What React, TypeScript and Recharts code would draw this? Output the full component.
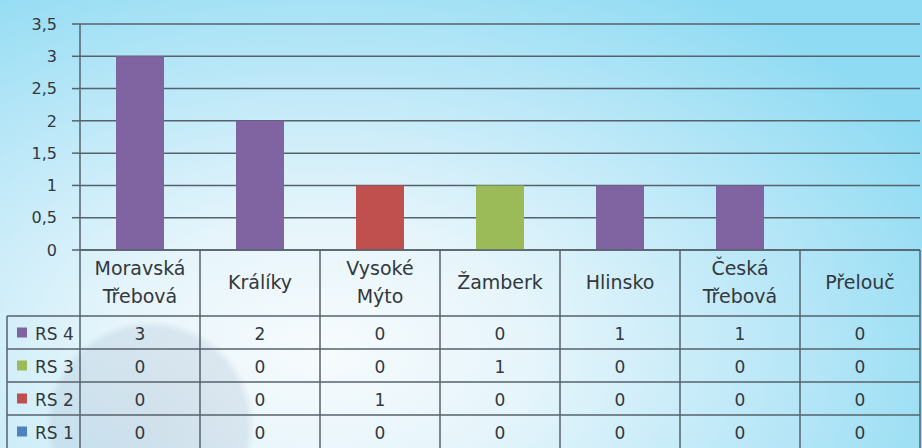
import React from 'react';
import { BarChart, Bar, XAxis, YAxis, CartesianGrid } from 'recharts';

const categories = ['Moravská Třebová', 'Králíky', 'Vysoké Mýto', 'Žamberk', 'Hlinsko', 'Česká Třebová', 'Přelouč'];
const rs4 = [3, 2, 0, 0, 1, 1, 0];
const rs3 = [0, 0, 0, 1, 0, 0, 0];
const rs2 = [0, 0, 1, 0, 0, 0, 0];
const rs1 = [0, 0, 0, 0, 0, 0, 0];
const seriesNames = ['RS 4', 'RS 3', 'RS 2', 'RS 1'];
const yTicks = [0, 0.5, 1, 1.5, 2, 2.5, 3, 3.5];

const COLORS = { rs4: '#8064a2', rs3: '#9bbb59', rs2: '#c0504d', rs1: '#4f81bd' };

const data = categories.map((c, i) => ({ name: c, rs1: rs1[i], rs2: rs2[i], rs3: rs3[i], rs4: rs4[i] }));

const tableRows = [
  { name: seriesNames[0], values: rs4, color: COLORS.rs4 },
  { name: seriesNames[1], values: rs3, color: COLORS.rs3 },
  { name: seriesNames[2], values: rs2, color: COLORS.rs2 },
  { name: seriesNames[3], values: rs1, color: COLORS.rs1 },
];

const W = 922;
const H = 448;
const PLOT_LEFT = 80;
const PLOT_RIGHT = 920;
const PLOT_TOP = 24;
const PLOT_BOTTOM = 250;
const BAND = (PLOT_RIGHT - PLOT_LEFT) / categories.length;
const HEADER_H = 66;
const ROW_H = 33;
const LEGEND_LEFT = 7;
const LINE = '#56626b';
const TEXT = '#33383d';
const FONT = 'DejaVu Sans';

function TableTick(props: any) {
  const { x, y, payload } = props;
  const i = payload && payload.index != null ? payload.index : props.index;
  const half = BAND / 2;
  const left = x - half;
  const right = x + half;
  const top = y;
  const rowTop = top + HEADER_H;
  const words = String(payload.value).split(' ');
  const els: any[] = [];
  if (words.length > 1) {
    els.push(
      <text key="h1" x={x} y={top + 25} textAnchor="middle" fontSize={19} fontFamily={FONT} fill={TEXT}>{words[0]}</text>,
      <text key="h2" x={x} y={top + 53} textAnchor="middle" fontSize={19} fontFamily={FONT} fill={TEXT}>{words.slice(1).join(' ')}</text>
    );
  } else {
    els.push(
      <text key="h" x={x} y={top + 39} textAnchor="middle" fontSize={19} fontFamily={FONT} fill={TEXT}>{words[0]}</text>
    );
  }
  els.push(<line key="vl" x1={left} x2={left} y1={top} y2={H} stroke={LINE} strokeWidth={1.5} />);
  if (i === categories.length - 1) {
    els.push(<line key="vr" x1={right} x2={right} y1={top} y2={H} stroke={LINE} strokeWidth={1.5} />);
  }
  tableRows.forEach((r, ri) => {
    const ry = rowTop + ri * ROW_H;
    els.push(<line key={'hl' + ri} x1={left} x2={right} y1={ry} y2={ry} stroke={LINE} strokeWidth={1.5} />);
    els.push(
      <text key={'v' + ri} x={x} y={ry + ROW_H / 2 + 7} textAnchor="middle" fontSize={17} fontFamily={FONT} fill={TEXT}>
        {r.values[i]}
      </text>
    );
  });
  if (i === 0) {
    els.push(<line key="ll" x1={LEGEND_LEFT} x2={LEGEND_LEFT} y1={rowTop} y2={H} stroke={LINE} strokeWidth={1.5} />);
    tableRows.forEach((r, ri) => {
      const ry = rowTop + ri * ROW_H;
      els.push(<line key={'lh' + ri} x1={LEGEND_LEFT} x2={left} y1={ry} y2={ry} stroke={LINE} strokeWidth={1.5} />);
      els.push(<rect key={'ls' + ri} x={17} y={ry + ROW_H / 2 - 5} width={10} height={10} fill={r.color} />);
      els.push(
        <text key={'lt' + ri} x={35} y={ry + ROW_H / 2 + 7} fontSize={17} fontFamily={FONT} fill={TEXT}>{r.name}</text>
      );
    });
  }
  return <g>{els}</g>;
}

export default function App() {
  return (
    <div
      style={{
        position: 'absolute',
        left: 0,
        top: 0,
        width: W,
        height: H,
        overflow: 'hidden',
        background:
          'radial-gradient(circle 105px at 150px 425px, rgba(150,172,196,0.28) 0%, rgba(150,172,196,0.22) 92%, rgba(150,172,196,0) 100%), ' +
          'radial-gradient(ellipse 75% 95% at 35% 78%, #f7fbfd 0%, #e6f5fb 30%, #bfe9f8 62%, #8fdbf3 100%)',
      }}
    >
      <BarChart
        width={W}
        height={H}
        data={data}
        margin={{ top: PLOT_TOP, right: W - PLOT_RIGHT, bottom: 0, left: 0 }}
        barCategoryGap="30%"
      >
        <CartesianGrid vertical={false} stroke={LINE} strokeWidth={1.5} />
        <YAxis
          width={PLOT_LEFT}
          domain={[0, 3.5]}
          ticks={yTicks}
          interval={0}
          tickSize={8}
          tickMargin={15}
          axisLine={{ stroke: LINE, strokeWidth: 1.5 }}
          tickLine={{ stroke: LINE, strokeWidth: 1.5 }}
          tickFormatter={(v: number) => String(v).replace('.', ',')}
          tick={{ fill: TEXT, fontSize: 16, fontFamily: FONT }}
        />
        <XAxis
          dataKey="name"
          height={H - PLOT_BOTTOM}
          interval={0}
          tickSize={0}
          tickMargin={0}
          tickLine={false}
          axisLine={{ stroke: LINE, strokeWidth: 1.5 }}
          tick={(p: any) => <TableTick {...p} />}
        />
        <Bar dataKey="rs1" stackId="a" fill={COLORS.rs1} isAnimationActive={false} />
        <Bar dataKey="rs2" stackId="a" fill={COLORS.rs2} isAnimationActive={false} />
        <Bar dataKey="rs3" stackId="a" fill={COLORS.rs3} isAnimationActive={false} />
        <Bar dataKey="rs4" stackId="a" fill={COLORS.rs4} isAnimationActive={false} />
      </BarChart>
    </div>
  );
}
